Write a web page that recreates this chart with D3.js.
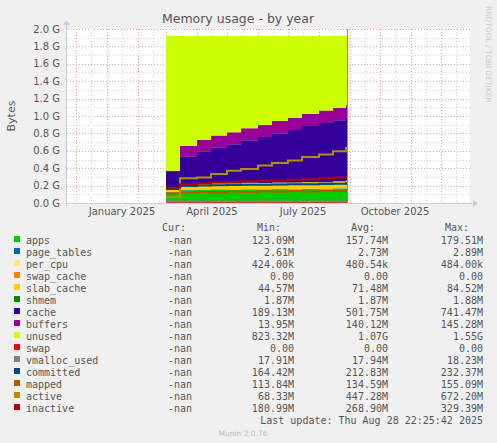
<!DOCTYPE html>
<html><head><meta charset="utf-8">
<script src="https://cdn.jsdelivr.net/npm/d3@7"></script>
<style>body{margin:0;background:#f0f0f0}svg{display:block}</style></head>
<body><svg id="c" width="497" height="443"></svg>
<script>
const dates=["2025-03-01","2025-03-15","2025-04-01","2025-04-15","2025-05-01","2025-05-15","2025-06-01","2025-06-15","2025-07-01","2025-07-15","2025-08-01","2025-08-15","2025-08-28"];
// values in MiB
const apps=[125,150,155,158,155,160,158,162,160,165,160,170,175];
const page_tables=[2.7,2.7,2.7,2.7,2.7,2.7,2.8,2.7,2.7,2.8,2.7,2.8,2.8];
const per_cpu=[0.48,0.48,0.48,0.48,0.48,0.48,0.48,0.48,0.48,0.48,0.48,0.48,0.48];
const swap_cache=[0,0,0,0,0,0,0,0,0,0,0,0,0];
const slab_cache=[45,65,70,72,72,73,73,74,75,76,78,80,84];
const shmem=[1.87,1.87,1.87,1.87,1.87,1.87,1.87,1.87,1.87,1.87,1.87,1.87,1.88];
const cache=[190,330,380,420,460,500,540,580,620,660,700,720,740];
const buffers=[14,120,135,140,140,142,142,143,143,144,145,145,145];
const unused=[1587,1296,1222,1171,1134,1086,1048,1002,963,916,878,846,817];
const swap=[0,0,0,0,0,0,0,0,0,0,0,0,0];
const vmalloc_used=[17.9,17.9,17.9,17.9,17.9,17.9,17.9,18,18,18,18,18.1,18.2];
const committed=[165,200,205,210,212,214,216,218,220,222,225,228,232];
const mapped=[114,125,130,128,135,130,138,132,140,135,145,140,150];
const active=[68,290,300,340,380,400,440,470,500,540,570,610,650];
const inactive=[181,220,230,240,245,255,260,265,275,280,290,300,310];
const yTicks=[0,0.2,0.4,0.6,0.8,1.0,1.2,1.4,1.6,1.8,2.0];
const xLabels=["January 2025","April 2025","July 2025","October 2025"];
const names=["apps","page_tables","per_cpu","swap_cache","slab_cache","shmem","cache","buffers","unused","swap","vmalloc_used","committed","mapped","active","inactive"];
const colors=["#00cc00","#0066b3","#ffe680","#ff8000","#ffcc00","#008f00","#330099","#990099","#ccff00","#ff0000","#808080","#00487d","#b35a00","#b38f00","#b30000"];
const mins=["123.09M","2.61M","424.00k","0.00","44.57M","1.87M","189.13M","13.95M","823.32M","0.00","17.91M","164.42M","113.84M","68.33M","180.99M"];
const avgs=["157.74M","2.73M","480.54k","0.00","71.48M","1.87M","501.75M","140.12M","1.07G","0.00","17.94M","212.83M","134.59M","447.28M","268.90M"];
const maxs=["179.51M","2.89M","484.00k","0.00","84.52M","1.88M","741.47M","145.28M","1.55G","0.00","18.23M","232.37M","155.09M","672.20M","329.39M"];

const svg=d3.select("#c");
const L=67,R=470,T=29,B=203;
const x=d3.scaleTime().domain([new Date("2024-11-22"),new Date("2025-12-30")]).range([L,R]);
const y=d3.scaleLinear().domain([0,2]).range([B,T]);
const mono="DejaVu Sans Mono, monospace", sans="DejaVu Sans, sans-serif";
svg.append("rect").attr("x",L).attr("y",T).attr("width",R-L).attr("height",B-T).attr("fill","#fff");
// grid
const g=svg.append("g");
for(let v=0;v<=2.001;v+=0.1){const yy=Math.round(y(v))+0.5;const major=Math.abs(v*5-Math.round(v*5))<1e-6;
 g.append("line").attr("x1",L).attr("x2",R).attr("y1",yy).attr("y2",yy).attr("stroke",major?"#e8a0a0":"#d0d0d0").attr("stroke-dasharray","1,2");}
const months=d3.timeMonth.range(new Date("2024-11-22"),new Date("2025-12-30"));
months.forEach(m=>{const xx=Math.round(x(m))+0.5;g.append("line").attr("x1",xx).attr("x2",xx).attr("y1",T).attr("y2",B).attr("stroke","#e8a0a0").attr("stroke-dasharray","1,2");
 const mid=new Date(m.getFullYear(),m.getMonth(),16);const xm=Math.round(x(mid))+0.5;if(xm<R)g.append("line").attr("x1",xm).attr("x2",xm).attr("y1",T).attr("y2",B).attr("stroke","#d0d0d0").attr("stroke-dasharray","1,2");});
// stacked areas
const stackNames=names.slice(0,9);
const arrs={apps,page_tables,per_cpu,swap_cache,slab_cache,shmem,cache,buffers,unused,swap,vmalloc_used,committed,mapped,active,inactive};
const rows=dates.map((d,i)=>{const o={date:new Date(d)};names.forEach(n=>o[n]=arrs[n][i]/1024);return o;});
const series=d3.stack().keys(stackNames)(rows);
const area=d3.area().x(d=>x(d.data.date)).y0(d=>y(d[0])).y1(d=>y(d[1])).curve(d3.curveStepAfter);
const endRow=Object.assign({},rows[rows.length-1],{date:new Date("2025-08-29")});
const series2=d3.stack().keys(stackNames)(rows.concat([endRow]));
series2.forEach((s,i)=>svg.append("path").attr("d",area(s)).attr("fill",colors[i]));
const line=d3.line().x(d=>x(d.date)).curve(d3.curveStepAfter);
const allRows=rows.concat([endRow]);
names.slice(9).forEach((n,k)=>{svg.append("path").attr("d",line.y(d=>y(d[n]))(allRows)).attr("fill","none").attr("stroke",colors[9+k]).attr("stroke-width",2);});
// now line
const xn=Math.round(x(new Date("2025-08-29")))+0.5;
svg.append("line").attr("x1",xn).attr("x2",xn).attr("y1",T).attr("y2",B).attr("stroke","#888");
// axes
svg.append("line").attr("x1",L).attr("x2",R+4).attr("y1",B+0.5).attr("y2",B+0.5).attr("stroke","#ccd");
svg.append("line").attr("x1",L-0.5).attr("x2",L-0.5).attr("y1",B+3).attr("y2",T-6).attr("stroke","#ccd");
svg.append("path").attr("d",`M${R+3},${B-3}L${R+8},${B+0.5}L${R+3},${B+4}Z`).attr("fill","#ccd");
svg.append("path").attr("d",`M${L-4},${T-4}L${L-0.5},${T-9}L${L+3},${T-4}Z`).attr("fill","#ccd");
yTicks.forEach(v=>svg.append("text").attr("x",60).attr("y",y(v)+3.5).attr("text-anchor","end").attr("font-family",sans).attr("font-size",10).attr("fill","#555").text(v.toFixed(1)+" G"));
const labDates=[new Date("2025-01-16"),new Date("2025-04-16"),new Date("2025-07-16"),new Date("2025-10-16")];
xLabels.forEach((t,i)=>svg.append("text").attr("x",x(labDates[i])).attr("y",215).attr("text-anchor","middle").attr("font-family",sans).attr("font-size",10).attr("fill","#555").text(t));
svg.append("text").attr("x",238).attr("y",23).attr("text-anchor","middle").attr("font-family",sans).attr("font-size",12.5).attr("fill","#555").text("Memory usage - by year");
svg.append("text").attr("transform","translate(15,116) rotate(-90)").attr("text-anchor","middle").attr("font-family",sans).attr("font-size",11).attr("fill","#555").text("Bytes");
svg.append("text").attr("transform","translate(486,6) rotate(90)").attr("font-family",sans).attr("font-size",7.5).attr("fill","#ccc").text("RRDTOOL / TOBI OETIKER");
// legend
const lg=svg.append("g").attr("font-family",mono).attr("font-size",10).attr("fill","#555");
[["Cur:",186],["Min:",281],["Avg:",375],["Max:",469]].forEach(([t,xx])=>lg.append("text").attr("x",xx).attr("y",231).attr("text-anchor","end").attr("fill","#555").text(t));
names.forEach((n,i)=>{const yy=244+i*12;
 lg.append("rect").attr("x",14).attr("y",yy-8).attr("width",6).attr("height",6).attr("fill",colors[i]);
 lg.append("text").attr("x",26).attr("y",yy).text(n);
 lg.append("text").attr("x",192).attr("y",yy).attr("text-anchor","end").text("-nan");
 lg.append("text").attr("x",294).attr("y",yy).attr("text-anchor","end").text(mins[i]);
 lg.append("text").attr("x",388).attr("y",yy).attr("text-anchor","end").text(avgs[i]);
 lg.append("text").attr("x",483).attr("y",yy).attr("text-anchor","end").text(maxs[i]);});
lg.append("text").attr("x",483).attr("y",424).attr("text-anchor","end").text("Last update: Thu Aug 28 22:25:42 2025");
svg.append("text").attr("x",243).attr("y",436).attr("text-anchor","middle").attr("font-family",sans).attr("font-size",7.5).attr("fill","#bbb").text("Munin 2.0.76");
</script></body></html>
